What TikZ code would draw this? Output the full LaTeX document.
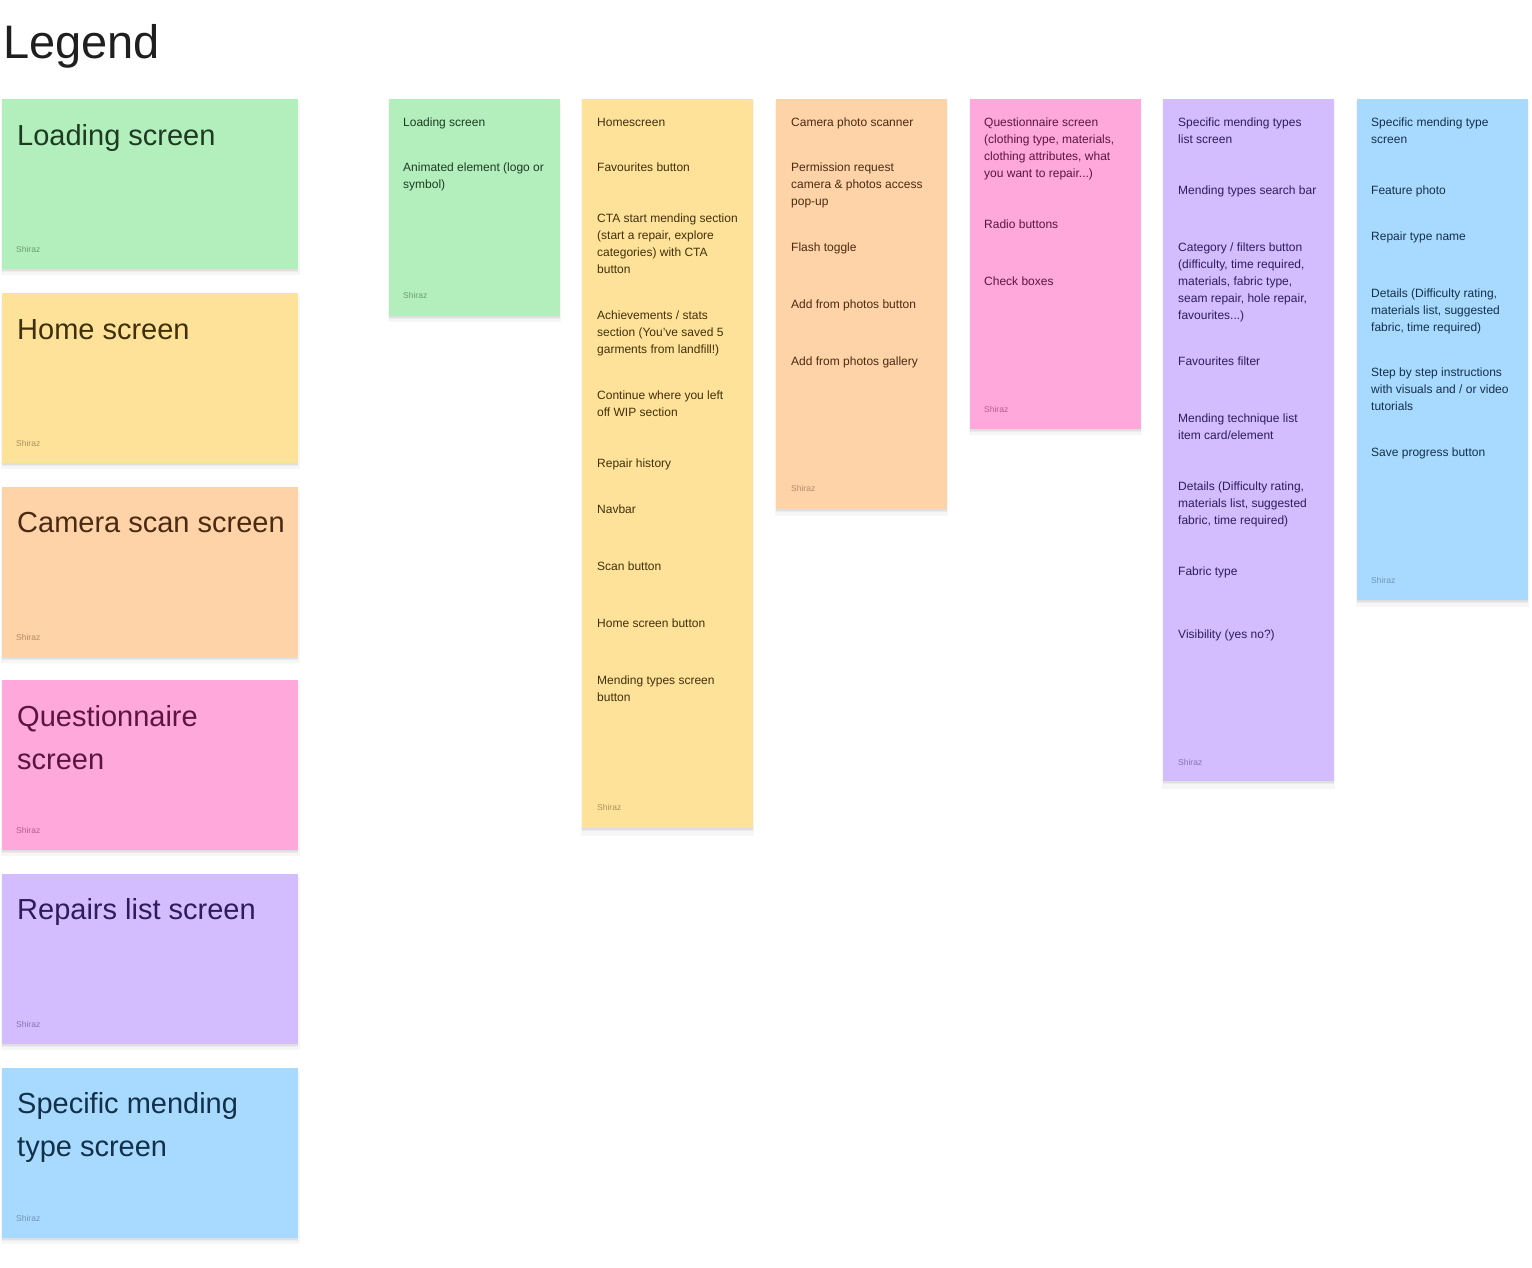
\documentclass[tikz,border=0pt]{standalone}
\usepackage{fontspec}
\setmainfont{Liberation Sans}
\usetikzlibrary{shadows}
\definecolor{grnF}{HTML}{B3EFBD}\definecolor{grnT}{HTML}{1E3B22}\definecolor{grnS}{HTML}{6A9D72}
\definecolor{ylwF}{HTML}{FFE299}\definecolor{ylwT}{HTML}{40300A}\definecolor{ylwS}{HTML}{A8935D}
\definecolor{orgF}{HTML}{FFD3A8}\definecolor{orgT}{HTML}{4A2A12}\definecolor{orgS}{HTML}{B58A68}
\definecolor{pnkF}{HTML}{FFA8DB}\definecolor{pnkT}{HTML}{5C1445}\definecolor{pnkS}{HTML}{B0608E}
\definecolor{prpF}{HTML}{D3BDFF}\definecolor{prpT}{HTML}{2F1C5C}\definecolor{prpS}{HTML}{8A74B8}
\definecolor{bluF}{HTML}{A8DAFF}\definecolor{bluT}{HTML}{13304A}\definecolor{bluS}{HTML}{6F95B3}
\begin{document}
\begin{tikzpicture}[x=1pt,y=-1pt,
  sticky/.style={anchor=north west, inner sep=0pt, draw=none,
    general shadow={fill=black, opacity=0.035, shadow xshift=0pt, shadow yshift=-4.5pt, shadow scale=1.01},
    general shadow={fill=black, opacity=0.04, shadow xshift=0pt, shadow yshift=-3pt},
    general shadow={fill=black, opacity=0.05, shadow xshift=0pt, shadow yshift=-1.5pt}},
  legendnote/.style={sticky, minimum width=296pt, minimum height=170pt},
  colnote/.style={sticky, minimum width=171pt},
  bigtxt/.style={anchor=north west, inner sep=0pt, align=left, font=\fontsize{29}{43}\selectfont},
  item/.style={anchor=north west, inner sep=0pt, align=left, font=\fontsize{12}{17}\selectfont},
  author/.style={anchor=west, inner sep=0pt, font=\fontsize{8.5}{10}\selectfont}]
\useasboundingbox[fill=white] (0,0) rectangle (1532,1267);

\node[anchor=base west, inner sep=0pt, text=black!88, font=\fontsize{47}{50}\selectfont] (title) at (3,58) {Legend};

% ---------- legend column ----------
\node[legendnote, fill=grnF] (lg1) at (2,99) {};
\node[bigtxt, text=grnT] (lg1t) at (17,115) {\strut Loading screen};
\node[author, text=grnS] (lg1s) at (16,249) {Shiraz};

\node[legendnote, fill=ylwF] (lg2) at (2,293) {};
\node[bigtxt, text=ylwT] (lg2t) at (17,309) {\strut Home screen};
\node[author, text=ylwS] (lg2s) at (16,443) {Shiraz};

\node[legendnote, fill=orgF] (lg3) at (2,487) {};
\node[bigtxt, text=orgT] (lg3t) at (17,502) {\strut Camera scan screen};
\node[author, text=orgS] (lg3s) at (16,637) {Shiraz};

\node[legendnote, fill=pnkF] (lg4) at (2,680) {};
\node[bigtxt, text=pnkT] (lg4t) at (17,696) {\strut Questionnaire\\screen};
\node[author, text=pnkS] (lg4s) at (16,830) {Shiraz};

\node[legendnote, fill=prpF] (lg5) at (2,874) {};
\node[bigtxt, text=prpT] (lg5t) at (17,889) {\strut Repairs list screen};
\node[author, text=prpS] (lg5s) at (16,1024) {Shiraz};

\node[legendnote, fill=bluF] (lg6) at (2,1068) {};
\node[bigtxt, text=bluT] (lg6t) at (17,1083) {\strut Specific mending\\type screen};
\node[author, text=bluS] (lg6s) at (16,1218) {Shiraz};

% ---------- column 1: loading ----------
\node[colnote, fill=grnF, minimum height=217pt] (c1) at (389,99) {};
\begin{scope}[every node/.append style={text=grnT}]
\node[item] (c1a) at (403,114.6) {\strut Loading screen};
\node[item] (c1b) at (403,159.6) {\strut Animated element (logo or\\symbol)};
\end{scope}
\node[author, text=grnS] (c1s) at (403,295) {Shiraz};

% ---------- column 2: home ----------
\node[colnote, fill=ylwF, minimum height=729pt] (c2) at (582,99) {};
\begin{scope}[every node/.append style={text=ylwT}]
\node[item] (c2a) at (597,114.6) {\strut Homescreen};
\node[item] (c2b) at (597,159.6) {\strut Favourites button};
\node[item] (c2c) at (597,210.6) {\strut CTA start mending section\\(start a repair, explore\\categories) with CTA\\button};
\node[item] (c2d) at (597,307.6) {\strut Achievements / stats\\section (You've saved 5\\garments from landfill!)};
\node[item] (c2e) at (597,387.6) {\strut Continue where you left\\off WIP section};
\node[item] (c2f) at (597,455.6) {\strut Repair history};
\node[item] (c2g) at (597,501.6) {\strut Navbar};
\node[item] (c2h) at (597,558.6) {\strut Scan button};
\node[item] (c2i) at (597,615.6) {\strut Home screen button};
\node[item] (c2j) at (597,672.6) {\strut Mending types screen\\button};
\end{scope}
\node[author, text=ylwS] (c2s) at (597,807) {Shiraz};

% ---------- column 3: camera ----------
\node[colnote, fill=orgF, minimum height=410pt] (c3) at (776,99) {};
\begin{scope}[every node/.append style={text=orgT}]
\node[item] (c3a) at (791,114.6) {\strut Camera photo scanner};
\node[item] (c3b) at (791,159.6) {\strut Permission request\\camera \& photos access\\pop-up};
\node[item] (c3c) at (791,239.6) {\strut Flash toggle};
\node[item] (c3d) at (791,296.6) {\strut Add from photos button};
\node[item] (c3e) at (791,353.6) {\strut Add from photos gallery};
\end{scope}
\node[author, text=orgS] (c3s) at (791,488) {Shiraz};

% ---------- column 4: questionnaire ----------
\node[colnote, fill=pnkF, minimum height=330pt] (c4) at (970,99) {};
\begin{scope}[every node/.append style={text=pnkT}]
\node[item] (c4a) at (984,114.6) {\strut Questionnaire screen\\(clothing type, materials,\\clothing attributes, what\\you want to repair...)};
\node[item] (c4b) at (984,216.6) {\strut Radio buttons};
\node[item] (c4c) at (984,273.6) {\strut Check boxes};
\end{scope}
\node[author, text=pnkS] (c4s) at (984,409) {Shiraz};

% ---------- column 5: repairs list ----------
\node[colnote, fill=prpF, minimum height=682pt] (c5) at (1163,99) {};
\begin{scope}[every node/.append style={text=prpT}]
\node[item] (c5a) at (1178,114.6) {\strut Specific mending types\\list screen};
\node[item] (c5b) at (1178,182.6) {\strut Mending types search bar};
\node[item] (c5c) at (1178,239.6) {\strut Category / filters button\\(difficulty, time required,\\materials, fabric type,\\seam repair, hole repair,\\favourites...)};
\node[item] (c5d) at (1178,353.6) {\strut Favourites filter};
\node[item] (c5e) at (1178,410.6) {\strut Mending technique list\\item card/element};
\node[item] (c5f) at (1178,478.6) {\strut Details (Difficulty rating,\\materials list, suggested\\fabric, time required)};
\node[item] (c5g) at (1178,563.6) {\strut Fabric type};
\node[item] (c5h) at (1178,626.6) {\strut Visibility (yes no?)};
\end{scope}
\node[author, text=prpS] (c5s) at (1178,762) {Shiraz};

% ---------- column 6: specific mending type ----------
\node[colnote, fill=bluF, minimum height=501pt] (c6) at (1357,99) {};
\begin{scope}[every node/.append style={text=bluT}]
\node[item] (c6a) at (1371,114.6) {\strut Specific mending type\\screen};
\node[item] (c6b) at (1371,182.6) {\strut Feature photo};
\node[item] (c6c) at (1371,228.6) {\strut Repair type name};
\node[item] (c6d) at (1371,285.6) {\strut Details (Difficulty rating,\\materials list, suggested\\fabric, time required)};
\node[item] (c6e) at (1371,364.6) {\strut Step by step instructions\\with visuals and / or video\\tutorials};
\node[item] (c6f) at (1371,444.6) {\strut Save progress button};
\end{scope}
\node[author, text=bluS] (c6s) at (1371,580) {Shiraz};
\end{tikzpicture}
\end{document}
